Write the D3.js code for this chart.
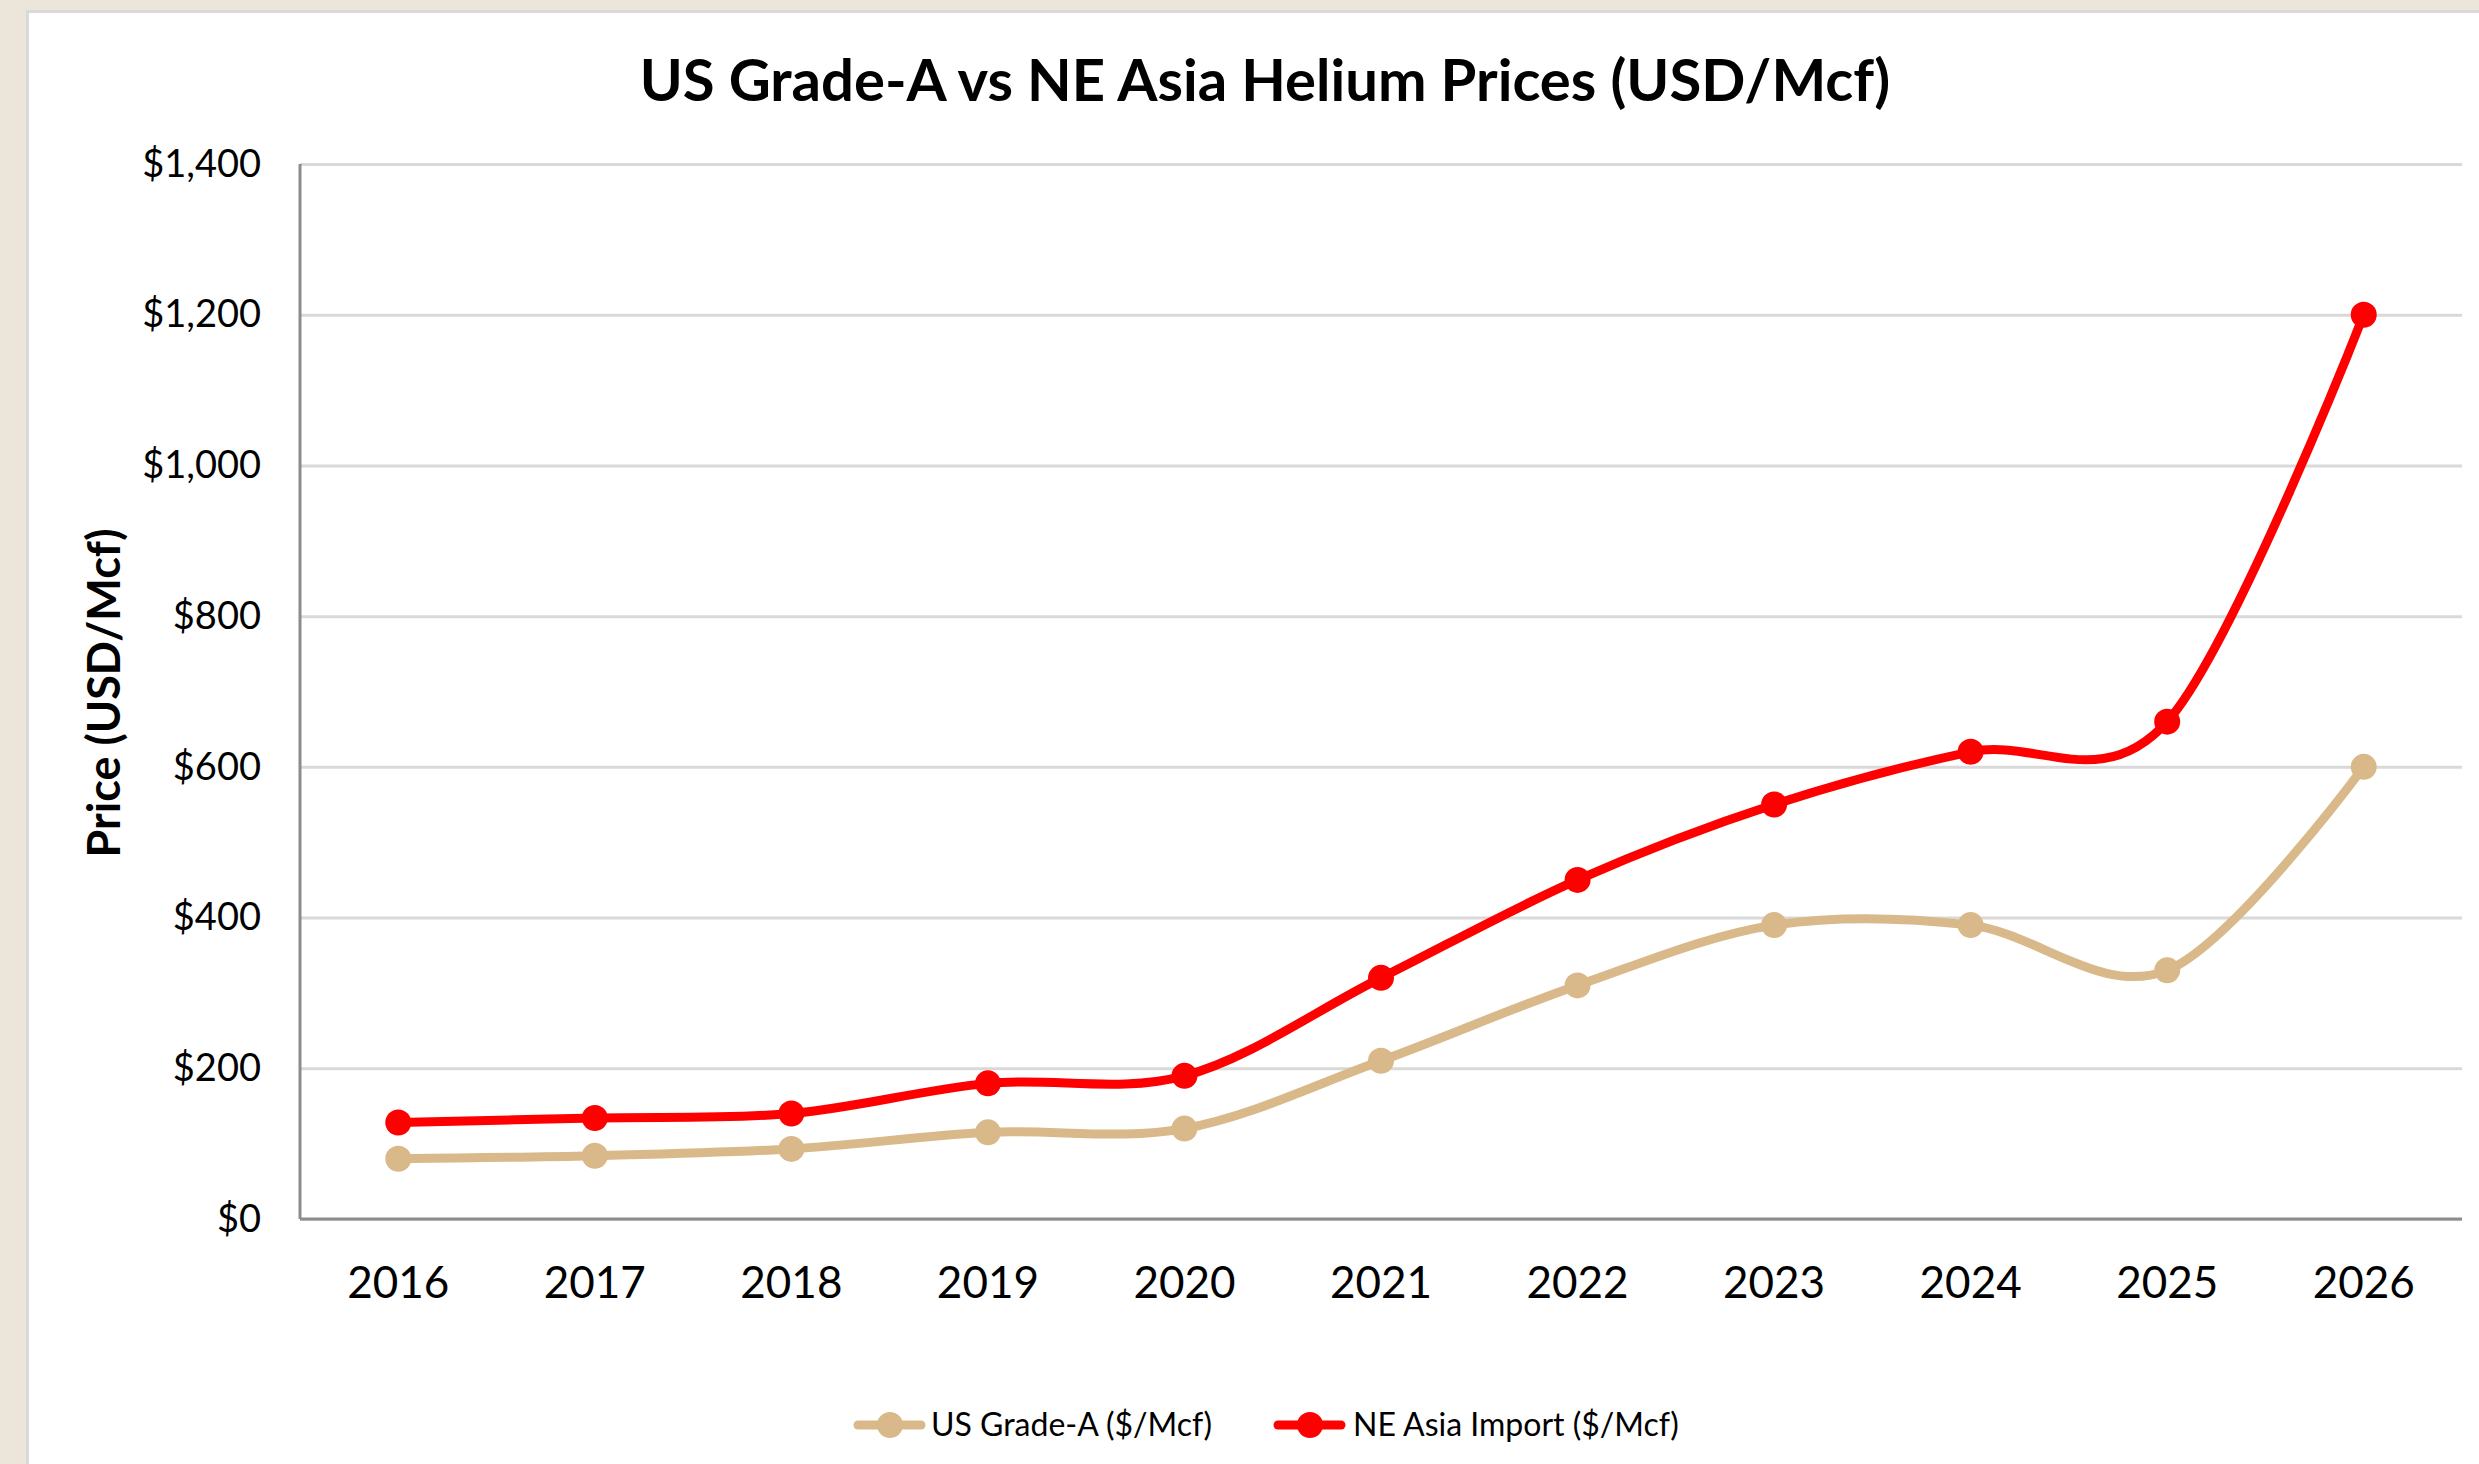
<!DOCTYPE html>
<html>
<head>
<meta charset="utf-8">
<script src="https://cdn.jsdelivr.net/npm/d3@7"></script>
<style>
  body { margin: 0; background: #ebe5da; }
  svg { display: block; }
  text { font-family: Lato, "Open Sans", sans-serif; fill: #000; }
</style>
</head>
<body>
<div id="chart"></div>
<script>
const years = ["2016", "2017", "2018", "2019", "2020", "2021", "2022", "2023", "2024", "2025", "2026"];
const usGradeA = [80, 84, 93, 115, 120, 210, 310, 390, 390, 330, 600];
const neAsiaImport = [128, 134, 140, 180, 190, 320, 450, 550, 620, 660, 1200];
const yTicks = [0, 200, 400, 600, 800, 1000, 1200, 1400];

const series = [
    { name: "US Grade-A ($/Mcf)", values: usGradeA, color: "#d9b98a" },
    { name: "NE Asia Import ($/Mcf)", values: neAsiaImport, color: "#ff0000" }
];

const W = 2479, H = 1464;
const margin = { top: 164, right: 17, bottom: 245, left: 300 };
const width = W - margin.left - margin.right;
const height = H - margin.top - margin.bottom;

const root = d3.select("#chart")
    .append("svg")
    .attr("width", W)
    .attr("height", H);

// beige page strip + chart area with its light border
root.append("rect").attr("width", W).attr("height", H).attr("fill", "#ebe5da");
root.append("rect")
    .attr("x", 27.5).attr("y", 11.5)
    .attr("width", W).attr("height", H)
    .attr("fill", "#fff")
    .attr("stroke", "#d9d9d9")
    .attr("stroke-width", 3);

root.append("text")
    .attr("x", 1265)
    .attr("y", 101)
    .attr("text-anchor", "middle")
    .style("font-size", "58px")
    .style("font-weight", "bold")
    .text("US Grade-A vs NE Asia Helium Prices (USD/Mcf)");

const svg = root.append("g")
    .attr("transform", `translate(${margin.left},${margin.top})`);

const xScale = d3.scaleBand().domain(years).range([0, width]).padding(0);
const yScale = d3.scaleLinear().domain([0, 1400]).range([height, 0]);
const cx = d => xScale(d) + xScale.bandwidth() / 2;

// gridlines
svg.append("g")
    .call(d3.axisLeft(yScale).tickValues(yTicks).tickSize(-width).tickFormat(""))
    .call(g => g.select(".domain").remove())
    .call(g => g.selectAll("line").attr("stroke", "#d9d9d9").attr("stroke-width", 3));

// y labels
svg.append("g")
    .call(d3.axisLeft(yScale).tickValues(yTicks).tickSize(0).tickPadding(39)
        .tickFormat(d => "$" + d3.format(",")(d)))
    .call(g => g.select(".domain").remove())
    .call(g => g.selectAll("text").style("font-size", "38px").attr("font-family", null));

// x axis
svg.append("g")
    .attr("transform", `translate(0,${height})`)
    .call(d3.axisBottom(xScale).tickSize(0).tickPadding(48))
    .call(g => g.select(".domain").remove())
    .call(g => g.selectAll("text").style("font-size", "44px").attr("font-family", null));

// axis lines
svg.append("line")
    .attr("x1", 0).attr("x2", 0).attr("y1", 0).attr("y2", height)
    .attr("stroke", "#8c8c8c").attr("stroke-width", 3);
svg.append("line")
    .attr("x1", 0).attr("x2", width).attr("y1", height).attr("y2", height)
    .attr("stroke", "#8c8c8c").attr("stroke-width", 3);

svg.append("text")
    .attr("transform", `translate(${104 - margin.left},${693 - margin.top}) rotate(-90)`)
    .attr("text-anchor", "middle")
    .attr("dy", "0.35em")
    .style("font-size", "45px")
    .style("font-weight", "bold")
    .text("Price (USD/Mcf)");

const line = d3.line()
    .x((d, i) => cx(years[i]))
    .y(d => yScale(d))
    .curve(d3.curveCatmullRom.alpha(0));

series.forEach(s => {
    svg.append("path")
        .datum(s.values)
        .attr("fill", "none")
        .attr("stroke", s.color)
        .attr("stroke-width", 9)
        .attr("stroke-linecap", "round")
        .attr("d", line);

    svg.selectAll(null)
        .data(s.values)
        .enter()
        .append("circle")
        .attr("cx", (d, i) => cx(years[i]))
        .attr("cy", d => yScale(d))
        .attr("r", 13)
        .attr("fill", s.color);
});

// legend
const legendItems = [
    { x: 854, textX: 931 },
    { x: 1274, textX: 1353 }
];
const legend = root.append("g");
series.forEach((s, i) => {
    const it = legendItems[i];
    legend.append("line")
        .attr("x1", it.x + 4).attr("x2", it.x + 67)
        .attr("y1", 1425).attr("y2", 1425)
        .attr("stroke", s.color).attr("stroke-width", 9)
        .attr("stroke-linecap", "round");
    legend.append("circle")
        .attr("cx", it.x + 36).attr("cy", 1425).attr("r", 13)
        .attr("fill", s.color);
    legend.append("text")
        .attr("x", it.textX).attr("y", 1425)
        .attr("dy", "0.35em")
        .style("font-size", "32px")
        .text(s.name);
});
</script>
</body>
</html>
